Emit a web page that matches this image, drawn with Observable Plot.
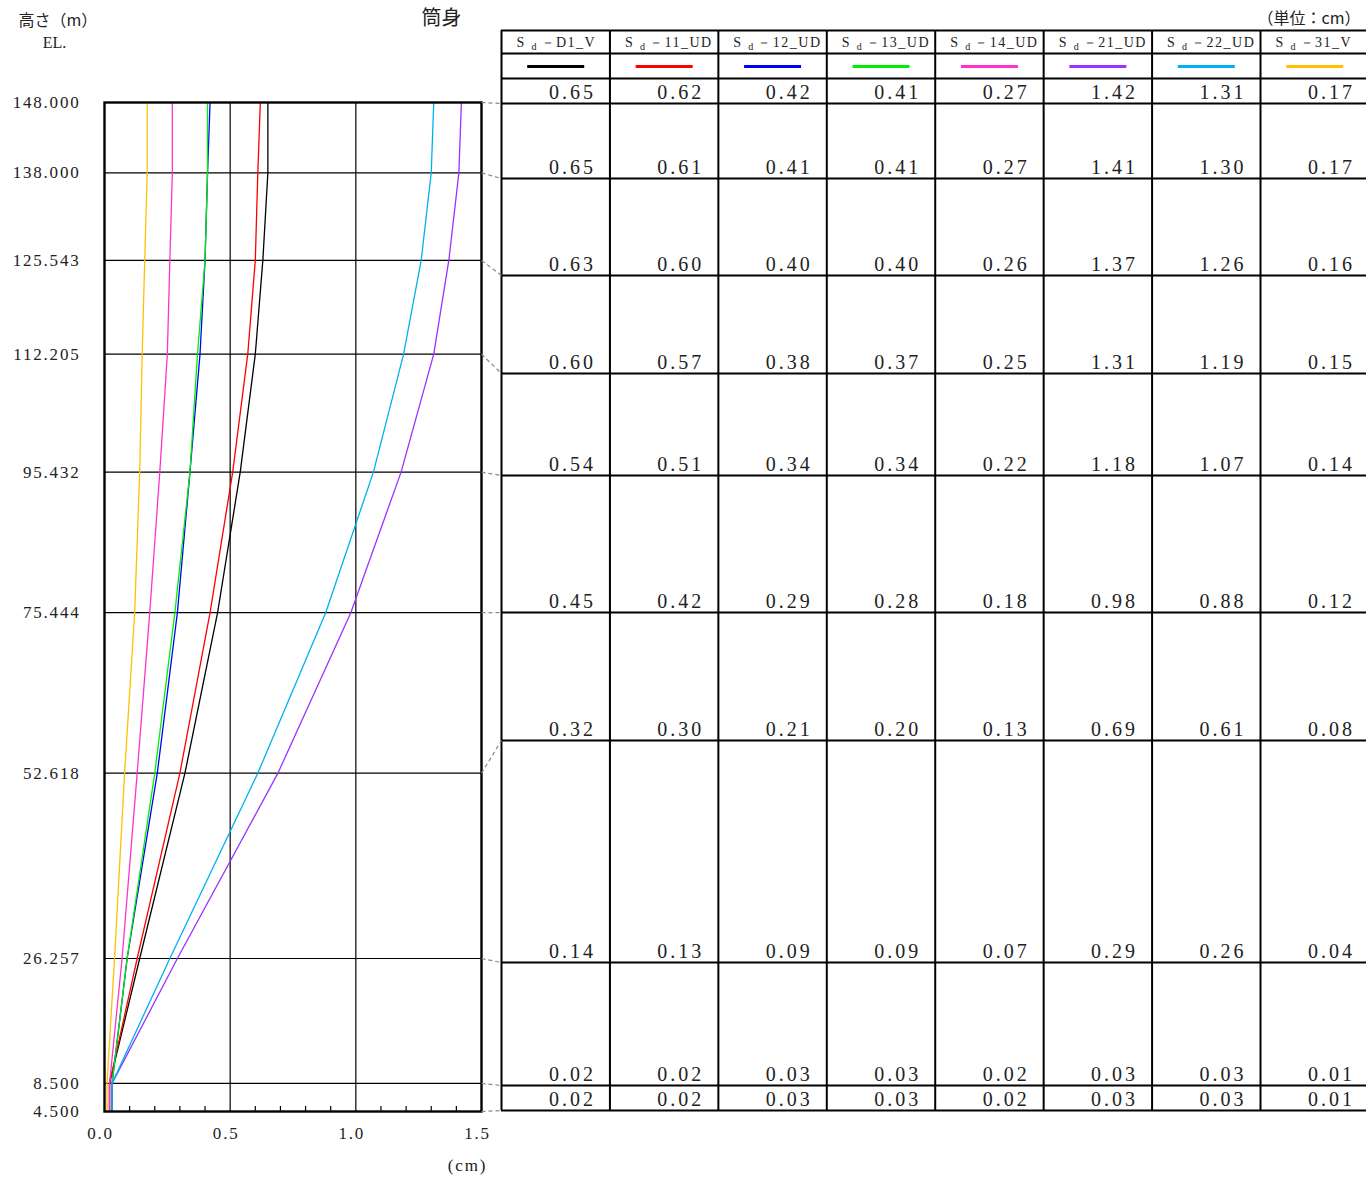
<!DOCTYPE html>
<html><head><meta charset="utf-8">
<script src="https://cdn.jsdelivr.net/npm/d3@7"></script>
<script src="https://cdn.jsdelivr.net/npm/@observablehq/plot@0.6"></script>
<style>
body{margin:0;background:#fff;}
#wrap{position:relative;width:1366px;height:1178px;overflow:hidden;background:#fff;}
#wrap svg{position:absolute;left:0;top:0;}
</style></head><body><div id="wrap"></div>
<script>
// ---- data ----
const elevations = [148.000, 138.000, 125.543, 112.205, 95.432, 75.444, 52.618, 26.257, 8.500, 4.500];
const seriesNames = ["Sd－D1_V","Sd－11_UD","Sd－12_UD","Sd－13_UD","Sd－14_UD","Sd－21_UD","Sd－22_UD","Sd－31_V"];
const seriesColors = ["#000000","#ff0000","#0000ff","#00ee00","#ff33cc","#9933ff","#00b0f0","#ffc000"];
const valD1_V  = [0.65,0.65,0.63,0.60,0.54,0.45,0.32,0.14,0.02,0.02];
const val11_UD = [0.62,0.61,0.60,0.57,0.51,0.42,0.30,0.13,0.02,0.02];
const val12_UD = [0.42,0.41,0.40,0.38,0.34,0.29,0.21,0.09,0.03,0.03];
const val13_UD = [0.41,0.41,0.40,0.37,0.34,0.28,0.20,0.09,0.03,0.03];
const val14_UD = [0.27,0.27,0.26,0.25,0.22,0.18,0.13,0.07,0.02,0.02];
const val21_UD = [1.42,1.41,1.37,1.31,1.18,0.98,0.69,0.29,0.03,0.03];
const val22_UD = [1.31,1.30,1.26,1.19,1.07,0.88,0.61,0.26,0.03,0.03];
const val31_V  = [0.17,0.17,0.16,0.15,0.14,0.12,0.08,0.04,0.01,0.01];
const seriesValues = [valD1_V,val11_UD,val12_UD,val13_UD,val14_UD,val21_UD,val22_UD,val31_V];
const xTicks = [0, 0.5, 1.0, 1.5];
const xMinorTicks = [0.1,0.2,0.3,0.4,0.6,0.7,0.8,0.9,1.1,1.2,1.3,1.4];
const xGrid = [0.5, 1.0];

// ---- layout ----
const serif = "'Liberation Serif','DejaVu Serif',serif";
const jp = "'Noto Sans CJK JP','Noto Sans',sans-serif";
const L = {left:501, colW:108.43, top:30, headBottom:53, legendBottom:78,
  rowLines:[103,178,275,373,475,612,740,962,1085,1110], right:1366, chartRight:481};
const colLeft = i => L.left + i * L.colW;

const rows = [];
seriesNames.forEach((s, i) => seriesValues[i].forEach((v, j) => rows.push({series: s, el: elevations[j], v})));
const cells = [];
seriesNames.forEach((s, i) => seriesValues[i].forEach((v, j) => cells.push({i, j, v})));

const chart = Plot.plot({
  width: 500, height: 1178,
  marginLeft: 104, marginRight: 19, marginTop: 102, marginBottom: 67,
  x: {domain: [0, 1.5], axis: null},
  y: {domain: [4.5, 148], axis: null},
  color: {domain: seriesNames, range: seriesColors},
  style: {background: "transparent", fontFamily: serif},
  marks: [
    Plot.ruleY(elevations, {stroke: "#000", strokeWidth: 1.2}),
    Plot.ruleX(xGrid, {stroke: "#000", strokeWidth: 1.2}),
    Plot.ruleX(xMinorTicks, {y1: 4.5, y2: 4.5, insetTop: -5, stroke: "#000", strokeWidth: 1.2}),
    Plot.line(rows, {x: "v", y: "el", z: "series", stroke: "series", strokeWidth: 1.3}),
    Plot.frame({stroke: "#000", strokeWidth: 2.4}),
    Plot.text(elevations, {x: 0, y: d => d, text: d => d3.format(".3f")(d), textAnchor: "end", dx: -24, fontSize: 17, fill: "#222"}),
    Plot.text(xTicks, {x: d => d, y: 4.5, dy: 22, dx: -4, text: d => d3.format(".1f")(d), fontSize: 17, fill: "#222"}),
    Plot.text(["(cm)"], {x: 1.5, y: 4.5, dy: 54, dx: -14, text: d => d, fontSize: 17, fill: "#222"})
  ]
});
d3.select(chart).selectAll("text").style("letter-spacing", "1.8px");

const yS = chart.scale("y");
const links = elevations.map((e, j) => ({x1: L.chartRight, y1: yS.apply(e), x2: L.left, y2: L.rowLines[j]}));
const headY = (L.top + L.headBottom) / 2 + 1;

const overlay = Plot.plot({
  width: 1366, height: 1178, margin: 0,
  x: {type: "identity"}, y: {type: "identity"},
  color: {domain: seriesNames, range: seriesColors},
  style: {background: "transparent"},
  marks: [
    Plot.ruleY([L.top, L.headBottom, L.legendBottom, ...L.rowLines], {x1: L.left, x2: L.right, stroke: "#000", strokeWidth: 2}),
    Plot.ruleX(d3.range(8).map(colLeft), {y1: L.top, y2: L.rowLines[L.rowLines.length - 1], stroke: "#000", strokeWidth: 2}),
    Plot.link(links, {x1: "x1", y1: "y1", x2: "x2", y2: "y2", stroke: "#888", strokeWidth: 1.2, strokeDasharray: "4,3"}),
    // header: S, subscript d, rest
    Plot.text(seriesNames, {x: (d, i) => colLeft(i) + 15, y: headY, text: d => d.slice(0, 1), textAnchor: "start", fontSize: 14, fontFamily: serif, fill: "#222"}),
    Plot.text(seriesNames, {x: (d, i) => colLeft(i) + 30, y: headY + 4, text: d => d.slice(1, 2), textAnchor: "start", fontSize: 10, fontFamily: serif, fill: "#222"}),
    Plot.text(seriesNames, {x: (d, i) => colLeft(i) + 39, y: headY, text: d => d.slice(2), textAnchor: "start", fontSize: 14, fontFamily: serif, fill: "#222"}),
    Plot.ruleY(seriesNames, {y: 66, x1: (d, i) => colLeft(i) + L.colW / 2 - 28, x2: (d, i) => colLeft(i) + L.colW / 2 + 29, stroke: d => d, strokeWidth: 3}),
    Plot.text(cells, {x: d => colLeft(d.i + 1) - 14, y: d => L.rowLines[d.j] - 11, text: d => d3.format(".2f")(d.v), textAnchor: "end", lineAnchor: "middle", fontSize: 20, fontFamily: serif, fill: "#222"}),
    Plot.text(["高さ（m）"], {x: 18, y: 20, text: d => d, textAnchor: "start", fontSize: 16, fontFamily: jp, fill: "#222"}),
    Plot.text(["EL."], {x: 54, y: 42, text: d => d, fontSize: 16, fontFamily: serif, fill: "#222"}),
    Plot.text(["筒身"], {x: 441, y: 18, text: d => d, fontSize: 20, fontFamily: jp, fill: "#222"}),
    Plot.text(["（単位：cm）"], {x: 1360, y: 18, text: d => d, textAnchor: "end", fontSize: 16, fontFamily: jp, fill: "#222"})
  ]
});
d3.select(overlay).selectAll("text").each(function() {
  const t = this.textContent;
  if (/^\d\.\d\d$/.test(t)) d3.select(this).style("letter-spacing", "3px");
  else if (/^－/.test(t)) d3.select(this).style("letter-spacing", "1.5px");
});

const wrap = document.getElementById("wrap");
wrap.appendChild(chart);
wrap.appendChild(overlay);
</script></body></html>
